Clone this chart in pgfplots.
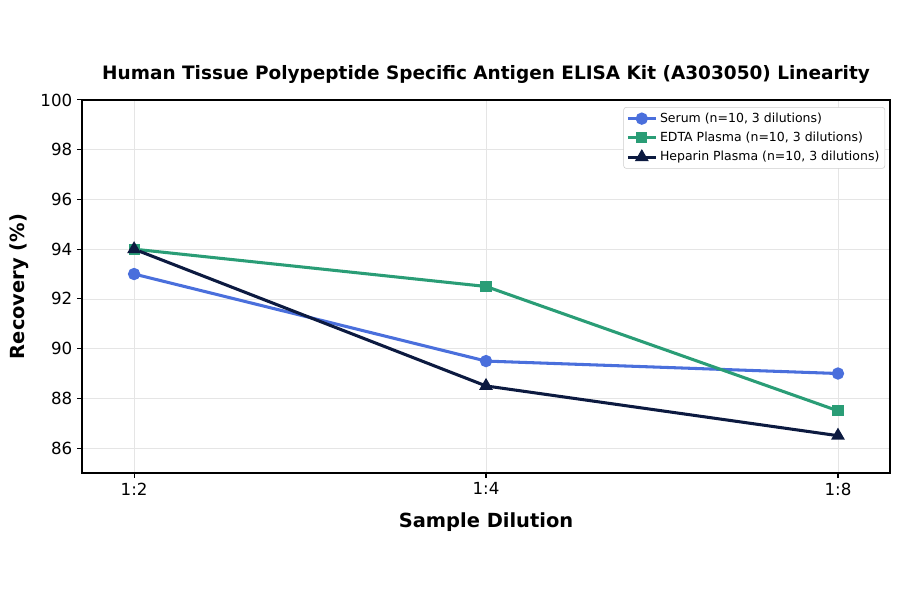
\documentclass[border=0pt]{standalone}
\usepackage{fontspec}
\setmainfont{DejaVu Sans}
\usepackage{pgfplots}
\pgfplotsset{compat=1.18}
\definecolor{serum}{HTML}{4A6FDC}
\definecolor{edta}{HTML}{2A9D76}
\definecolor{hep}{HTML}{0C1A40}

\begin{document}
\begin{tikzpicture}
\begin{axis}[
    scale only axis,
    width=581.8pt, height=268.6pt,
    xmin=-0.148, xmax=2.148,
    ymin=85, ymax=100,
    xtick={0,1,2},
    xticklabels={1:2,1:4,1:8},
    ytick={86,88,...,100},
    tick align=outside,
    tick pos=left,
    major tick length=3.5pt,
    grid=major,
    grid style={color=black!10, line width=0.5pt},
    axis line style={line width=0.9pt},
    tick style={line width=0.8pt, black},
    ticklabel style={font=\fontsize{12}{14}\selectfont},
    /pgf/number format/assume math mode=true,
    xlabel={Sample Dilution},
    ylabel={Recovery (\%)},
    label style={font=\fontsize{14}{16}\selectfont\bfseries},
    xlabel style={at={(0.5,-0.1448)}, anchor=base},
    ylabel style={at={(-0.0712,0.5)}, anchor=base},
    title={Human Tissue Polypeptide Specific Antigen ELISA Kit (A303050) Linearity},
    title style={font=\fontsize{13.3}{15}\selectfont\bfseries, at={(0.5,1.0322)}, anchor=base},
    legend style={at={(0.994,0.981)}, anchor=north east,
        font=\fontsize{9}{11}\selectfont, draw=black!20, rounded corners=2pt,
        row sep=1.5pt, inner sep=2pt},
    legend cell align={left},
    legend image code/.code={
        \draw[mark repeat=2, mark phase=2, #1] plot coordinates {(0pt,0pt) (10pt,0pt) (20pt,0pt)};
    },
]

\addplot [color=serum, line width=2.2pt, mark=*, mark size=3.3pt] coordinates {
    (0, 93.0)
    (1, 89.5)
    (2, 89.0)
};
\addlegendentry{Serum (n=10, 3 dilutions)}

\addplot [color=edta, line width=2.2pt, mark=square*, mark size=2.9pt] coordinates {
    (0, 94.0)
    (1, 92.5)
    (2, 87.5)
};
\addlegendentry{EDTA Plasma (n=10, 3 dilutions)}

\addplot [color=hep, line width=2.2pt, mark=triangle*, mark size=3.6pt] coordinates {
    (0, 94.0)
    (1, 88.5)
    (2, 86.5)
};
\addlegendentry{Heparin Plasma (n=10, 3 dilutions)}

\end{axis}
\pgfresetboundingbox
\path ([shift={(-59.04pt,-87.12pt)}]current axis.south west)
    rectangle ([shift={(588.96pt,340.56pt)}]current axis.south west);
\end{tikzpicture}
\end{document}
